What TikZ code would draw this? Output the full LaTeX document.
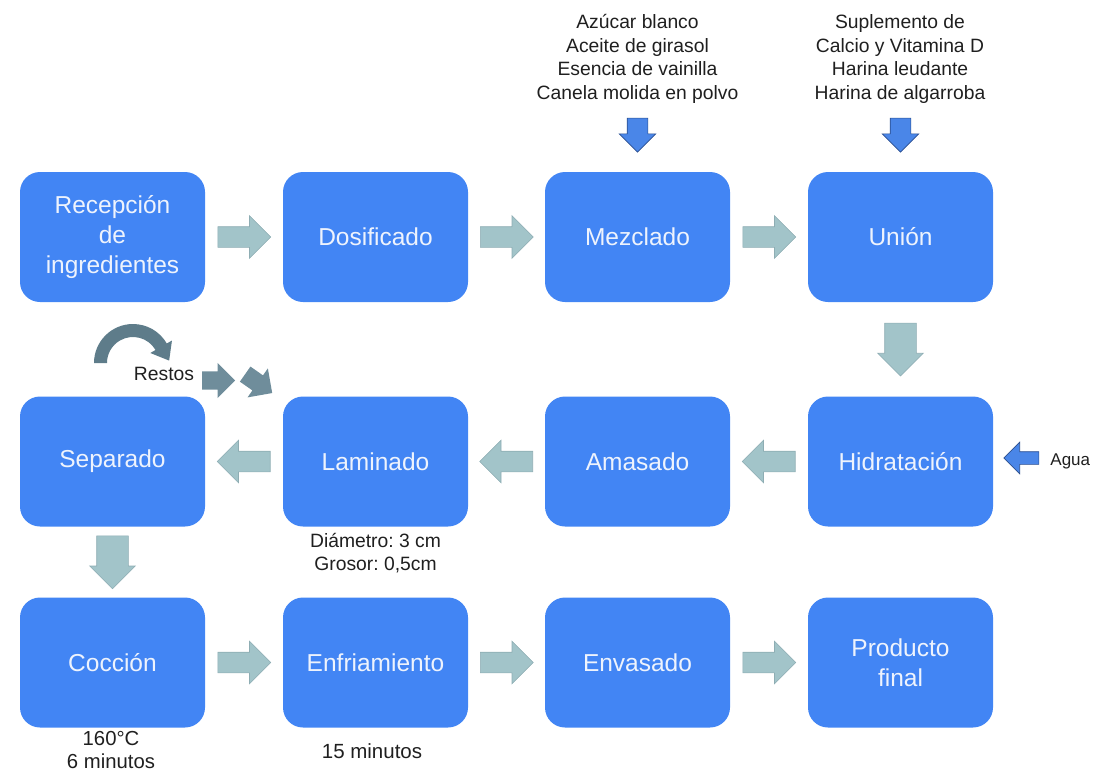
\documentclass[tikz,border=0pt]{standalone}
\usepackage{fontspec}
\setmainfont{Liberation Sans}
\usetikzlibrary{shapes.arrows,calc}

\definecolor{boxblue}{HTML}{4285F4}
\definecolor{boxtext}{HTML}{EEF3FD}
\definecolor{flowgray}{HTML}{A2C4C9}
\definecolor{flowedge}{HTML}{8EADB3}
\definecolor{inblue}{HTML}{4A86E8}
\definecolor{inedge}{HTML}{2A4E8E}
\definecolor{restgray}{HTML}{6F8D9B}
\definecolor{curvegray}{HTML}{5E7C8A}

\begin{document}
\frenchspacing
\begin{tikzpicture}[x=1pt,y=-1pt,
  stage/.style={fill=boxblue,text=boxtext,rounded corners=20pt,minimum width=185pt,minimum height=130pt,align=center,inner sep=0pt,font=\fontsize{24.5}{30}\selectfont},
  note/.style={align=center,text=black!88,inner sep=0pt,font=\fontsize{19.3}{23.5}\selectfont},
  flow/.style={single arrow,anchor=tail,draw=flowedge,fill=flowgray,line width=0.6pt,inner xsep=0pt,inner ysep=10pt,minimum height=53pt,single arrow head extend=11pt},
  flowdown/.style={flow,inner ysep=15.5pt,single arrow head extend=7pt,rotate=270},
  input/.style={single arrow,anchor=tail,draw=inedge,fill=inblue,line width=0.6pt,inner xsep=0pt},
  rest/.style={single arrow,anchor=tail,fill=restgray,inner xsep=0pt,inner ysep=9pt,minimum height=33pt,single arrow head extend=8.5pt}]
\useasboundingbox (0,0) rectangle (1097,771);

% stages
\node[stage] (recep) at (112.5,237) {Recepción\\de\\ingredientes};
\node[stage] (dosif) at (375.5,237) {Dosificado};
\node[stage] (mezcla) at (637.5,237) {Mezclado};
\node[stage] (union) at (900.5,237) {Unión};
\node[stage] (separ) at (112.5,461.5) {Separado};
\node[stage] (lamin) at (375.5,461.5) {Laminado};
\node[stage] (amasa) at (637.5,461.5) {Amasado};
\node[stage] (hidra) at (900.5,461.5) {Hidratación};
\node[stage] (coccion) at (112.5,662.5) {Cocción};
\node[stage] (enfria) at (375.5,662.5) {Enfriamiento};
\node[stage] (envas) at (637.5,662.5) {Envasado};
\node[stage] (final) at (900.5,662.5) {Producto\\final};

% flow arrows
\node[flow] (f1) at ($(recep.east)!0.5!(dosif.west)+(-26.5,0)$) {};
\node[flow] (f2) at ($(dosif.east)!0.5!(mezcla.west)+(-26.5,0)$) {};
\node[flow] (f3) at ($(mezcla.east)!0.5!(union.west)+(-26.5,0)$) {};
\node[flowdown] (f4) at ($(union.south)!0.5!(hidra.north)+(0,-26.5)$) {};
\node[flow,rotate=180] (f5) at ($(hidra.west)!0.5!(amasa.east)+(26.5,0)$) {};
\node[flow,rotate=180] (f6) at ($(amasa.west)!0.5!(lamin.east)+(26.5,0)$) {};
\node[flow,rotate=180] (f7) at ($(lamin.west)!0.5!(separ.east)+(26.5,0)$) {};
\node[flowdown] (f8) at ($(separ.south)!0.5!(coccion.north)+(0,-26.5)$) {};
\node[flow] (f9) at ($(coccion.east)!0.5!(enfria.west)+(-26.5,0)$) {};
\node[flow] (f10) at ($(enfria.east)!0.5!(envas.west)+(-26.5,0)$) {};
\node[flow] (f11) at ($(envas.east)!0.5!(final.west)+(-26.5,0)$) {};

% inputs
\node[note] (inmezcla) at (637.5,59) {Azúcar blanco\\Aceite de girasol\\Esencia de vainilla\\Canela molida en polvo};
\node[input,rotate=270,minimum height=34pt,inner ysep=10pt,single arrow head extend=8pt] (amezcla) at ($(mezcla.north)+(0,-54)$) {};
\node[note] (inunion) at (900,59) {Suplemento de\\Calcio y Vitamina D\\Harina leudante\\Harina de algarroba};
\node[input,rotate=270,minimum height=34pt,inner ysep=10pt,single arrow head extend=8pt] (aunion) at ($(union.north)+(0,-54)$) {};
\node[input,rotate=180,minimum height=35pt,inner ysep=6pt,single arrow head extend=9.5pt] (aagua) at ($(hidra.east)+(46,-3.5)$) {};
\node[note,anchor=west] (agua) at ($(hidra.east)+(57,0)$) {\fontsize{17}{20}\selectfont Agua};

% restos
\coordinate (rc) at (133,363);
\fill[curvegray] ($(rc)+(180:39)$) arc[start angle=180,end angle=330,radius=39]
  -- ($(rc)+(330:45)$) -- ($(rc)+(330:32.5)+(60:16)$) -- ($(rc)+(330:20)$)
  -- ($(rc)+(330:26)$) arc[start angle=330,end angle=180,radius=26] -- cycle;
\node[note] (restos) at (164,374) {Restos};
\node[rest] (r1) at (202,380.5) {};
\node[rest,rotate=-35] (r2) at (245,374) {};

% notes
\node[note,anchor=north] (nlamin) at ($(lamin.south)+(0,6)$) {Diámetro: 3 cm\\Grosor: 0,5cm};
\node[note,anchor=north] (ncoccion) at ($(coccion.south)+(-1.5,3)$) {\fontsize{20.3}{25}\selectfont 160°C\\\fontsize{20.3}{25}\selectfont 6 minutos};
\node[note] (nenfria) at ($(enfria.south)+(-3.5,23)$) {\fontsize{20.5}{24}\selectfont 15 minutos};
\end{tikzpicture}
\end{document}
